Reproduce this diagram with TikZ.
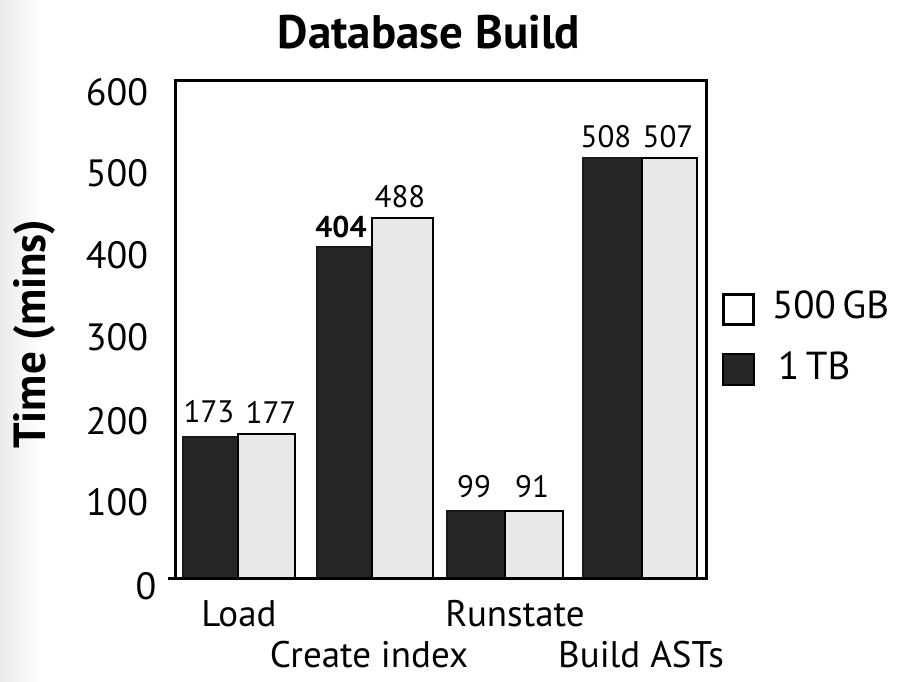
\documentclass[tikz,border=0pt]{standalone}
\usepackage{fontspec}
\setmainfont{PT Sans}
\begin{document}
\begin{tikzpicture}[x=1pt,y=-1pt,
  darkbar/.style={fill=black!85,draw=black!90,line width=1.5pt},
  lightbar/.style={fill=black!9,draw=black,line width=2.5pt},
  frameline/.style={draw=black,line width=3pt},
  tick/.style={inner sep=0pt,font=\fontsize{38}{40}\selectfont},
  vallab/.style={inner sep=0pt,font=\fontsize{31}{33}\selectfont},
  catlab/.style={inner sep=0pt,anchor=base,font=\fontsize{37}{39}\selectfont},
  leglab/.style={inner sep=0pt,anchor=west,font=\fontsize{39}{41}\selectfont}]
\useasboundingbox (0,0) rectangle (899,681);
\fill[white] (0,0) rectangle (899,681);
\shade[left color=black!8,right color=white] (0,0) rectangle (40,681);
% title
\node[inner sep=0pt,font=\bfseries\fontsize{47}{49}\selectfont] (title) at (429,32) {Database Build};
% y label
\node[inner sep=0pt,rotate=90,font=\bfseries\fontsize{45}{47}\selectfont] (ylab) at (34,334) {Time (mins)};
% ticks
\node[tick] (t600) at (117,92) {600};
\node[tick] (t500) at (117,173) {500};
\node[tick] (t400) at (117,255) {400};
\node[tick] (t300) at (117,337) {300};
\node[tick] (t200) at (117,421) {200};
\node[tick] (t100) at (117,502) {100};
\node[tick] (t0) at (146,586) {0};
% bars
\draw[darkbar] (183,578) rectangle (238,437);
\draw[lightbar] (238,578) rectangle (295,434);
\draw[darkbar] (317,578) rectangle (372,247);
\draw[lightbar] (372,578) rectangle (433,218);
\draw[darkbar] (447,578) rectangle (505,511);
\draw[lightbar] (505,578) rectangle (563,511);
\draw[darkbar] (583,578) rectangle (642,158);
\draw[lightbar] (642,578) rectangle (697,158);
% frame
\draw[frameline] (175,80) rectangle (706,578);
\draw[frameline] (168,578) -- (706,578);
% value labels
\node[vallab] (v1) at (209,412) {173};
\node[vallab] (v2) at (271,412) {177};
\node[vallab,font=\bfseries\fontsize{30}{32}\selectfont] (v3) at (341,227) {404};
\node[vallab] (v4) at (400,197) {488};
\node[vallab] (v5) at (474,487) {99};
\node[vallab] (v6) at (532,487) {91};
\node[vallab] (v7) at (606,137) {508};
\node[vallab] (v8) at (668,137) {507};
% category labels
\node[catlab] (c1) at (239,626) {Load};
\node[catlab] (c2) at (369,667) {Create index};
\node[catlab] (c3) at (515,626) {Runstate};
\node[catlab] (c4) at (641,667) {Build ASTs};
% legend
\node[draw=black,line width=3pt,fill=white,minimum width=30pt,minimum height=30pt,inner sep=0pt] (lw) at (738,309) {};
\node[draw=black,line width=2pt,fill=black!85,minimum width=31pt,minimum height=31pt,inner sep=0pt] (ld) at (738,369) {};
\node[leglab] (lwt) at (772,305) {500\,GB};
\node[leglab] (ldt) at (778,366) {1\,TB};
\end{tikzpicture}
\end{document}
